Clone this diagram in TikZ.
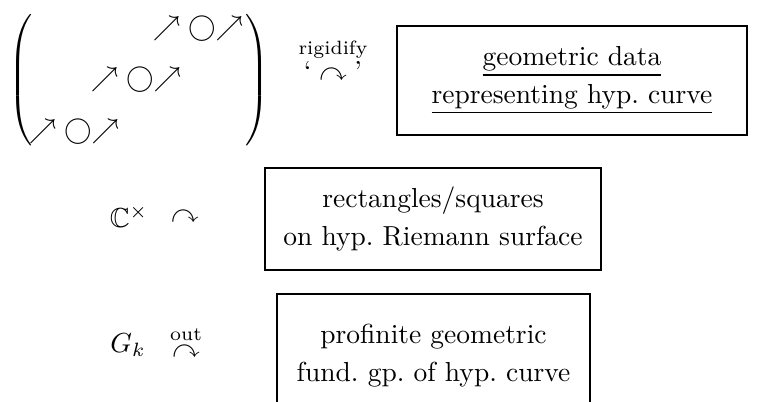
\documentclass[tikz,border=0pt]{standalone}
\usepackage{amsmath,amssymb}
\usetikzlibrary{positioning}

\begin{document}
\begin{tikzpicture}[
    x=0.3636pt, y=-0.3636pt,
    box/.style={rectangle, draw, line width=0.75pt, align=center,
                inner sep=0pt, font=\fontsize{10}{13.8}\selectfont},
    piece/.style={inner sep=0pt, anchor=base}
  ]
    \clip (0,0) rectangle (762,402);

    % Top row: diagonal of circles between parentheses
    \node[inner sep=0pt] (lpar) at (22,82) {$\left(\vrule height 23pt depth 23pt width 0pt\right.$};
    \node[inner sep=0pt] (rpar) at (256,82) {$\left.\vrule height 23pt depth 23pt width 0pt\right)$};
    \node[piece] (circA) at (74,139) {$\nearrow\bigcirc\mathord{\nearrow}$};
    \node[piece] (circB) at (136,87) {$\nearrow\bigcirc\mathord{\nearrow}$};
    \node[piece] (circC) at (198,36) {$\nearrow\bigcirc\mathord{\nearrow}$};
    \node (rigid) at (333,59) {$\overset{\text{rigidify}}{\text{`}\curvearrowright\text{'}}$};
    \node[box, minimum width=127.3pt, minimum height=39.6pt] (geom) at (572,80.5)
      {\underline{geometric data}\\\underline{representing hyp.\ curve}};

    % Middle row: C^x acting
    \node (cstar) at (129,217) {$\mathbb{C}^\times$};
    \node (actC) at (185,217) {$\curvearrowright$};
    \node[box, minimum width=122.2pt, minimum height=37.1pt] (rect) at (433,219)
      {rectangles/squares\\on hyp.\ Riemann surface};

    % Bottom row: Galois group acting
    \node (galois) at (128,345) {$G_k$};
    \node (actG) at (186,342) {$\overset{\text{out}}{\curvearrowright}$};
    \node[box, minimum width=113.8pt, minimum height=45pt] (fund) at (433.5,356)
      {profinite geometric\\fund.\ gp.\ of hyp.\ curve};
  \end{tikzpicture}
\end{document}
